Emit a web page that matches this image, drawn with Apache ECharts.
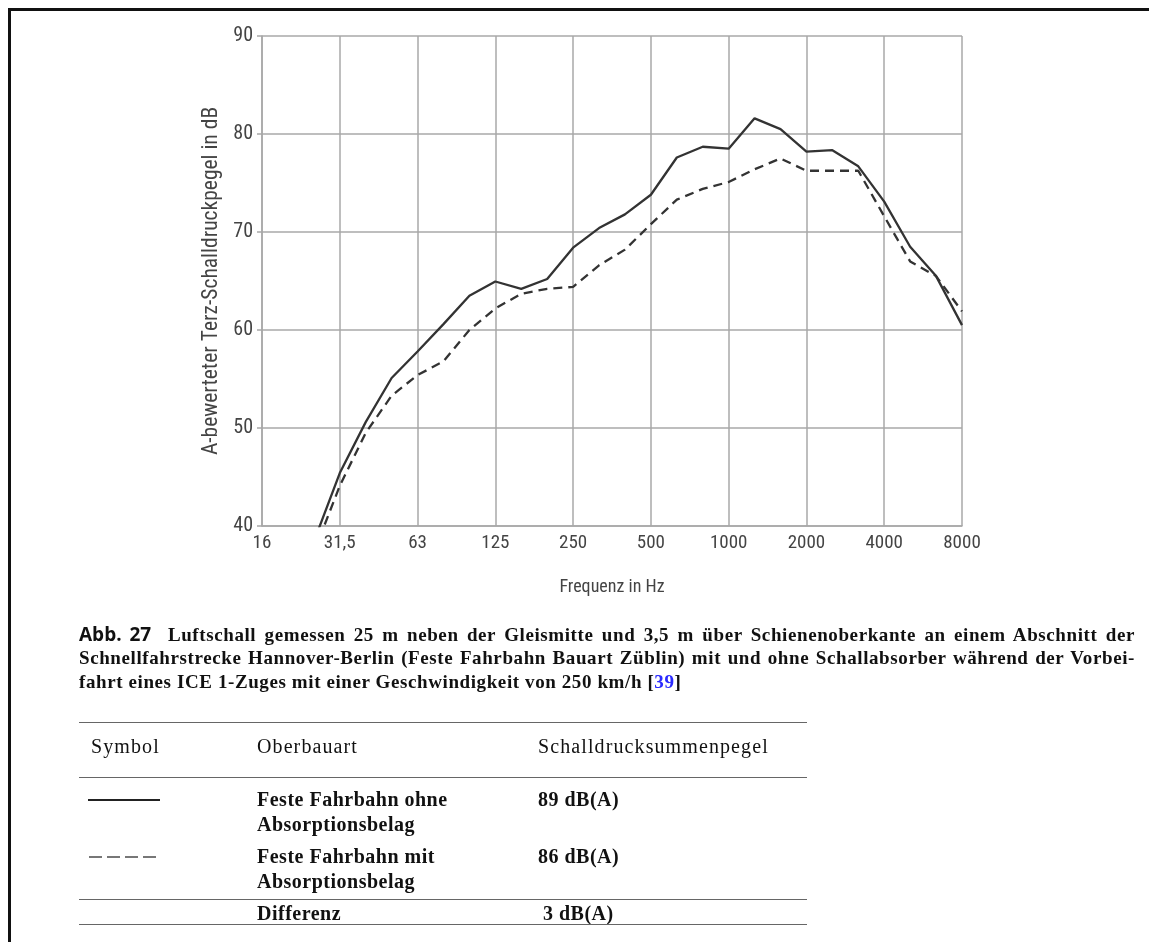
<!DOCTYPE html>
<html>
<head>
<meta charset="utf-8">
<script src="https://cdn.jsdelivr.net/npm/echarts@6/dist/echarts.min.js"></script>
<style>
  html, body { margin: 0; padding: 0; background: #fff; }
  #wrap { position: relative; width: 1149px; height: 942px; overflow: hidden; }
  #chart { position: absolute; left: 0; top: 0; width: 1149px; height: 942px; }
  #frame { position: absolute; left: 8px; top: 8px; width: 1160px; height: 960px;
           border-left: 3px solid #111; border-top: 3px solid #111; pointer-events: none; }
  .t { position: absolute; font-family: "Liberation Serif", "Times New Roman", serif; color: #111;
       white-space: nowrap; line-height: 24px; font-size: 20px; }
  .h { letter-spacing: 1.1px; }
  .b { font-weight: bold; letter-spacing: 0.5px; }
  .cap { position: absolute; left: 79px; width: 1056px; font-family: "Liberation Serif", serif; font-weight: bold;
         font-size: 19px; line-height: 24px; letter-spacing: 0.6px; color: #111; white-space: nowrap; }
  .just { text-align: justify; text-align-last: justify; }
  .hr { position: absolute; left: 79px; width: 728px; height: 0; border-top: 1.5px solid #666; }
  .dash { position: absolute; height: 2px;
          background: repeating-linear-gradient(90deg, #777 0 13px, transparent 13px 18px); }
</style>
</head>
<body>
<div id="wrap">
  <div id="chart"></div>
  <div id="frame"></div>
  <div class="cap just" style="top:622px;"><span style="font-family:'Open Sans','DejaVu Sans',sans-serif;font-weight:bold;font-size:19px;letter-spacing:0;">Abb. 27</span>&nbsp; Luftschall gemessen 25 m neben der Gleismitte und 3,5 m über Schienenoberkante an einem Abschnitt der</div>
  <div class="cap just" style="top:646px;">Schnellfahrstrecke Hannover-Berlin (Feste Fahrbahn Bauart Züblin) mit und ohne Schallabsorber während der Vorbei-</div>
  <div class="cap" style="top:670px;">fahrt eines ICE 1-Zuges mit einer Geschwindigkeit von 250 km/h [<span style="color:#2a2aff;">39</span>]</div>

  <div class="hr" style="top:722px;"></div>
  <div class="t h" style="left:91px;top:734px;">Symbol</div>
  <div class="t h" style="left:257px;top:734px;">Oberbauart</div>
  <div class="t h" style="left:538px;top:734px;">Schalldrucksummenpegel</div>
  <div class="hr" style="top:777px;"></div>

  <div style="position:absolute;left:88px;top:799px;width:72px;border-top:2px solid #222;"></div>
  <div class="t b" style="left:257px;top:787px;">Feste Fahrbahn ohne</div>
  <div class="t b" style="left:257px;top:812px;">Absorptionsbelag</div>
  <div class="t b" style="left:538px;top:787px;">89 dB(A)</div>

  <div class="dash" style="left:89px;top:856px;width:70px;"></div>
  <div class="t b" style="left:257px;top:844px;">Feste Fahrbahn mit</div>
  <div class="t b" style="left:257px;top:869px;">Absorptionsbelag</div>
  <div class="t b" style="left:538px;top:844px;">86 dB(A)</div>

  <div class="hr" style="top:899px;"></div>
  <div class="t b" style="left:257px;top:901px;">Differenz</div>
  <div class="t b" style="left:543px;top:901px;">3 dB(A)</div>
  <div class="hr" style="top:924px;"></div>
</div>
<script>
// Third-octave band centre frequencies (Hz) and labels shown on the axis
const categories = ['16','20','25','31,5','40','50','63','80','100','125','160','200','250','315','400','500','630','800','1000','1250','1600','2000','2500','3150','4000','5000','6300','8000'];
// Feste Fahrbahn ohne Absorptionsbelag (solid)
const ohneAbsorption = [null, null, 38.4, 45.4, 50.6, 55.1, 57.8, 60.6, 63.5, 64.95, 64.2, 65.2, 68.4, 70.4, 71.8, 73.8, 77.6, 78.7, 78.5, 81.6, 80.5, 78.2, 78.35, 76.7, 73.1, 68.5, 65.5, 60.5];
// Feste Fahrbahn mit Absorptionsbelag (dashed)
const mitAbsorption = [null, null, 37.3, 44.1, 49.5, 53.3, 55.4, 56.8, 60.0, 62.2, 63.7, 64.2, 64.4, 66.6, 68.2, 70.8, 73.3, 74.4, 75.1, 76.4, 77.5, 76.25, 76.25, 76.25, 71.6, 67.0, 65.5, 61.9];
const yTicks = { min: 40, max: 90, interval: 10 };

const chart = echarts.init(document.getElementById('chart'), null, { renderer: 'canvas' });
const narrow = '"Liberation Sans Narrow", "Arial Narrow", "Roboto Condensed", sans-serif';
const gridColor = '#a8a8a8';
chart.setOption({
  animation: false,
  grid: { left: 262, right: 187, top: 36, bottom: 416, containLabel: false },
  xAxis: {
    type: 'category',
    data: categories,
    boundaryGap: false,
    axisLine: { show: true, lineStyle: { color: gridColor, width: 1.5 } },
    axisTick: { show: false },
    axisLabel: { interval: 2, color: '#444', fontFamily: narrow, fontSize: 19, margin: 8 },
    splitLine: { show: true, interval: 2, lineStyle: { color: gridColor, width: 1.5 } },
    name: 'Frequenz in Hz',
    nameLocation: 'middle',
    nameGap: 52,
    nameTextStyle: { color: '#444', fontFamily: narrow, fontSize: 18 }
  },
  yAxis: {
    type: 'value',
    min: yTicks.min, max: yTicks.max, interval: yTicks.interval,
    axisLine: { show: true, lineStyle: { color: gridColor, width: 1.5 } },
    axisTick: { show: true, length: 5, lineStyle: { color: gridColor, width: 1.5 } },
    axisLabel: { color: '#444', fontFamily: narrow, fontSize: 20, margin: 9 },
    splitLine: { show: true, lineStyle: { color: gridColor, width: 1.5 } },
    name: 'A-bewerteter Terz-Schalldruckpegel in dB',
    nameLocation: 'middle',
    nameRotate: 90,
    nameGap: 39,
    nameTextStyle: { color: '#444', fontFamily: narrow, fontSize: 21.5 }
  },
  series: [
    { type: 'line', data: ohneAbsorption, symbol: 'none', connectNulls: false, clip: true,
      lineStyle: { color: '#333', width: 2.3, type: 'solid' } },
    { type: 'line', data: mitAbsorption, symbol: 'none', connectNulls: false, clip: true,
      lineStyle: { color: '#333', width: 2.3, type: [9, 6] } }
  ]
});
</script>
</body>
</html>
